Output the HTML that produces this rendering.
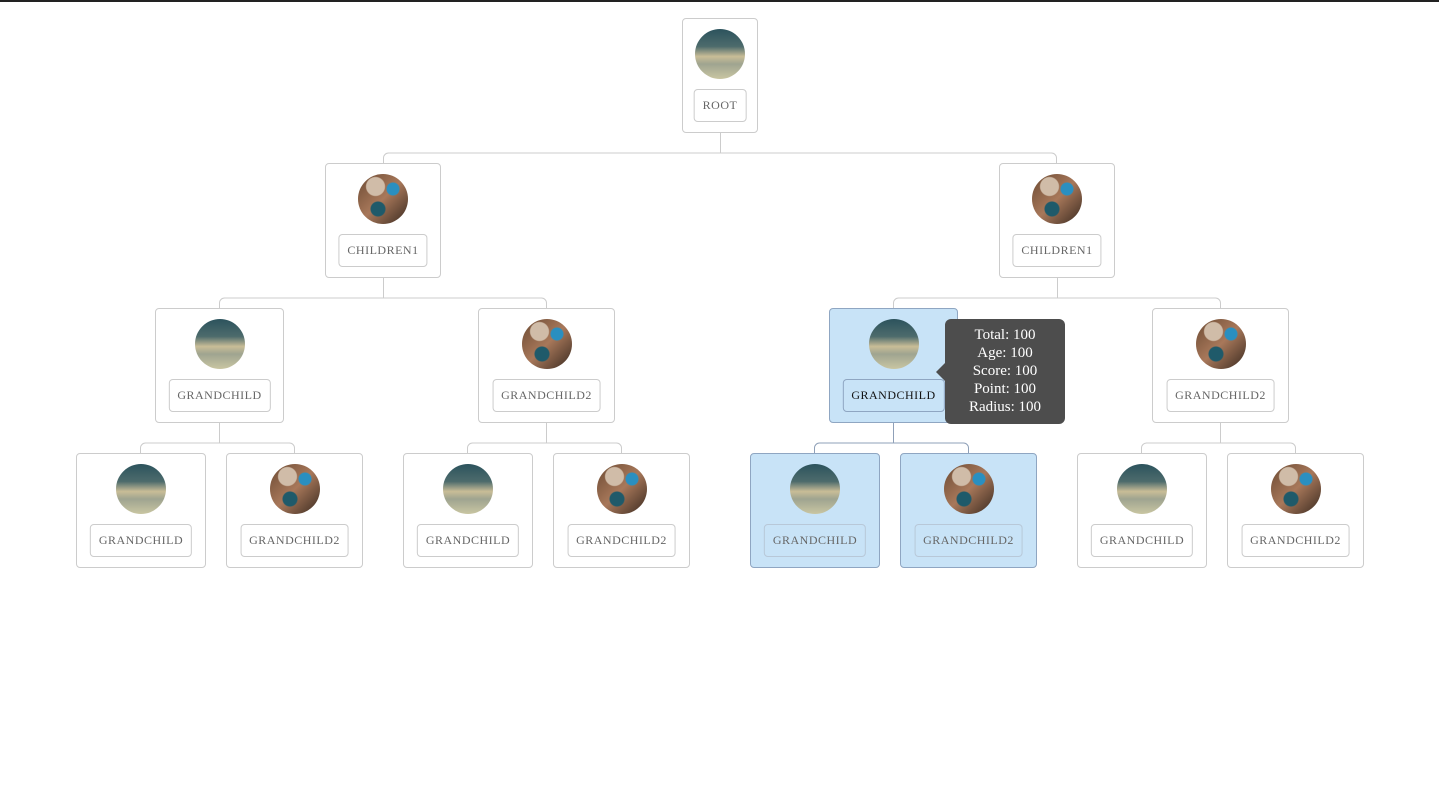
<!DOCTYPE html>
<html><head><meta charset="utf-8"><style>
body{margin:0;width:1439px;height:791px;background:#fff;position:relative;overflow:hidden;font-family:"Liberation Serif",serif}
.bar{position:absolute;left:0;top:0;width:1439px;height:2px;background:#222}
.n{position:absolute;box-sizing:border-box;border:1px solid #ccc;border-radius:4px;background:#fff;height:115px}
.n.h{background:#c8e3f7;border-color:#8fa6c2}
.c{position:absolute;width:50px;height:50px;border-radius:50%;top:10px;left:50%;margin-left:-25px}
.sky{background:linear-gradient(180deg,#2c535d 0%,#4d6b6c 35%,#c9bd97 55%,#9fa490 70%,#c9c6a2 100%)}
.desk{background:radial-gradient(circle at 70% 30%,#2a8fc0 0 6px,transparent 7px),radial-gradient(circle at 40% 70%,#1f5a6a 0 7px,transparent 8px),radial-gradient(circle at 35% 25%,#d0bca8 0 9px,transparent 10px),linear-gradient(135deg,#6b4a33,#a8785a 50%,#3a2a20)}
.l{position:absolute;top:70px;left:50%;transform:translateX(-50%);height:33px;box-sizing:border-box;border:1px solid #ccc;border-radius:4px;padding:0 8px;line-height:31px;font-size:12px;letter-spacing:0.5px;color:#666;white-space:nowrap;background:transparent}
.h .l{border-color:#b8c8d8}
.sel .l{color:#111;border-color:#8fa6c2}
svg{position:absolute;left:0;top:0}
.tip{position:absolute;left:945px;top:319px;width:120px;height:105px;background:#4d4d4d;border-radius:6px;color:#fff;font-size:15px;line-height:18px;text-align:center;padding-top:7px;box-sizing:border-box}
.tip:before{content:"";position:absolute;left:-9px;top:44px;border-top:9px solid transparent;border-bottom:9px solid transparent;border-right:9px solid #4d4d4d}
</style></head><body>
<div class="bar"></div>
<svg width="1439" height="791" fill="none" stroke="#ccc" stroke-width="1">
<path d="M720.5 132V153.5M383.5 163V158a5 5 0 0 1 5-5H1051.5a5 5 0 0 1 5 5V163"/>
<path d="M383.5 277V298.5M219.5 308V303a5 5 0 0 1 5-5H541.5a5 5 0 0 1 5 5V308"/>
<path d="M1057.5 277V298.5M893.5 308V303a5 5 0 0 1 5-5H1215.5a5 5 0 0 1 5 5V308"/>
<path d="M219.5 422V443.5M140.5 453V448a5 5 0 0 1 5-5H289.5a5 5 0 0 1 5 5V453"/>
<path d="M546.5 422V443.5M467.5 453V448a5 5 0 0 1 5-5H616.5a5 5 0 0 1 5 5V453"/>
<path d="M1220.5 422V443.5M1141.5 453V448a5 5 0 0 1 5-5H1290.5a5 5 0 0 1 5 5V453"/>
<path stroke="#8fa0b8" d="M893.5 422V443.5M814.5 453V448a5 5 0 0 1 5-5H963.5a5 5 0 0 1 5 5V453"/>
</svg>
<div class="n" style="left:682px;top:18px;width:76px"><div class="c sky"></div><div class="l">ROOT</div></div>
<div class="n" style="left:325px;top:163px;width:116px"><div class="c desk"></div><div class="l">CHILDREN1</div></div>
<div class="n" style="left:999px;top:163px;width:116px"><div class="c desk"></div><div class="l">CHILDREN1</div></div>
<div class="n" style="left:155px;top:308px;width:129px"><div class="c sky"></div><div class="l">GRANDCHILD</div></div>
<div class="n" style="left:478px;top:308px;width:137px"><div class="c desk"></div><div class="l">GRANDCHILD2</div></div>
<div class="n h sel" style="left:829px;top:308px;width:129px"><div class="c sky"></div><div class="l">GRANDCHILD</div></div>
<div class="n" style="left:1152px;top:308px;width:137px"><div class="c desk"></div><div class="l">GRANDCHILD2</div></div>
<div class="n" style="left:76px;top:453px;width:130px"><div class="c sky"></div><div class="l">GRANDCHILD</div></div>
<div class="n" style="left:226px;top:453px;width:137px"><div class="c desk"></div><div class="l">GRANDCHILD2</div></div>
<div class="n" style="left:403px;top:453px;width:130px"><div class="c sky"></div><div class="l">GRANDCHILD</div></div>
<div class="n" style="left:553px;top:453px;width:137px"><div class="c desk"></div><div class="l">GRANDCHILD2</div></div>
<div class="n h" style="left:750px;top:453px;width:130px"><div class="c sky"></div><div class="l">GRANDCHILD</div></div>
<div class="n h" style="left:900px;top:453px;width:137px"><div class="c desk"></div><div class="l">GRANDCHILD2</div></div>
<div class="n" style="left:1077px;top:453px;width:130px"><div class="c sky"></div><div class="l">GRANDCHILD</div></div>
<div class="n" style="left:1227px;top:453px;width:137px"><div class="c desk"></div><div class="l">GRANDCHILD2</div></div>
<div class="tip">Total: 100<br>Age: 100<br>Score: 100<br>Point: 100<br>Radius: 100</div>
</body></html>
